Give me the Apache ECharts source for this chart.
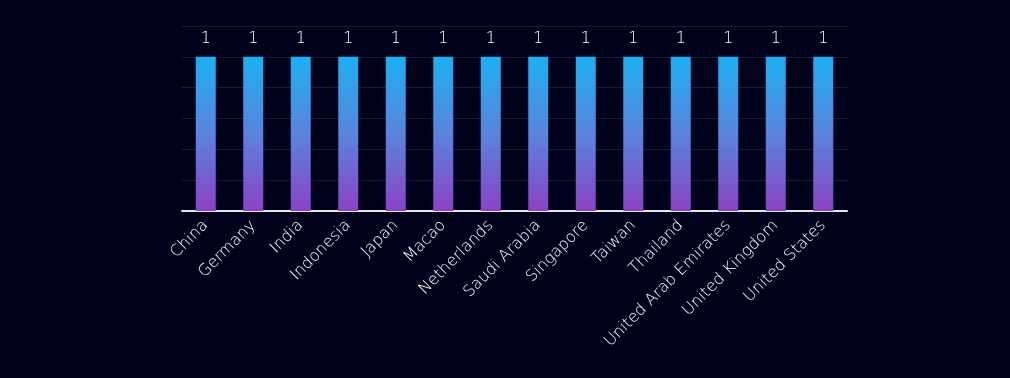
<!DOCTYPE html>
<html>
<head>
<meta charset="utf-8">
<script src="https://cdn.jsdelivr.net/npm/echarts@6/dist/echarts.min.js"></script>
<style>
  html, body { margin: 0; padding: 0; background: #00021b; }
  #chart { width: 1010px; height: 378px; }
</style>
</head>
<body>
<div id="chart"></div>
<script>
const countries = ['China', 'Germany', 'India', 'Indonesia', 'Japan', 'Macao', 'Netherlands',
    'Saudi Arabia', 'Singapore', 'Taiwan', 'Thailand', 'United Arab Emirates', 'United Kingdom', 'United States'];
const counts = [1, 1, 1, 1, 1, 1, 1, 1, 1, 1, 1, 1, 1, 1];

const chart = echarts.init(document.getElementById('chart'));
chart.setOption({
    backgroundColor: '#00021b',
    animation: false,
    grid: {
        left: 182,
        right: 163,
        top: 26,
        bottom: 167
    },
    xAxis: {
        type: 'category',
        data: countries,
        axisLine: {
            lineStyle: { color: '#e6e6ef', width: 2 }
        },
        axisTick: { show: false },
        axisLabel: {
            rotate: 45,
            interval: 0,
            color: '#ffffff',
            fontFamily: 'DejaVu Sans',
            fontWeight: 200,
            fontSize: 16,
            margin: 12
        }
    },
    yAxis: {
        type: 'value',
        min: 0,
        max: 1.2,
        interval: 0.2,
        axisLabel: { show: false },
        axisLine: { show: false },
        axisTick: { show: false },
        splitLine: {
            lineStyle: { color: '#1b1e36', width: 1 }
        }
    },
    series: [
        {
            type: 'bar',
            data: counts,
            barWidth: 20,
            itemStyle: {
                color: new echarts.graphic.LinearGradient(0, 0, 0, 1, [
                    { offset: 0, color: '#1cb0f2' },
                    { offset: 0.5, color: '#5a84dc' },
                    { offset: 1, color: '#8b42c6' }
                ])
            },
            label: {
                show: true,
                position: 'top',
                distance: 10,
                color: '#ffffff',
                fontFamily: 'DejaVu Sans',
                fontWeight: 200,
                fontSize: 16
            }
        }
    ]
});
</script>
</body>
</html>
